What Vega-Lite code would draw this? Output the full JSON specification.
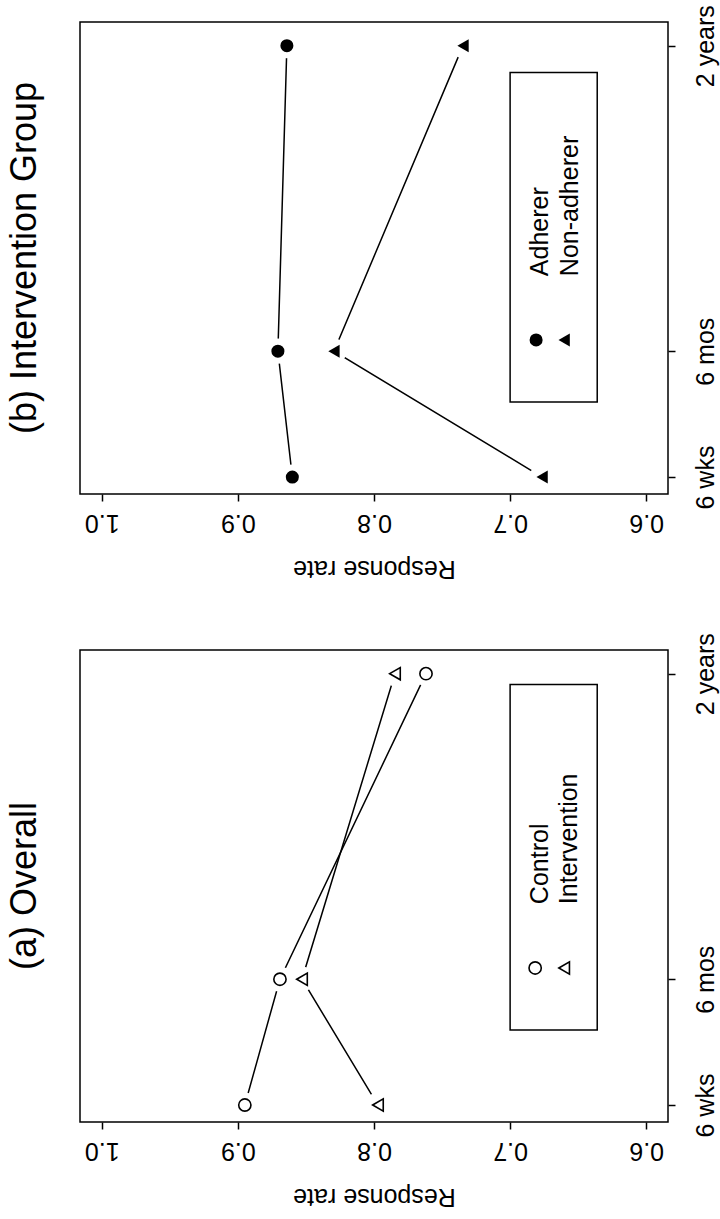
{
  "$schema": "https://vega.github.io/schema/vega-lite/v6.json",
  "background": "white",
  "padding": {"left": 6, "top": 3, "right": 5, "bottom": 5},
  "spacing": 50,
  "datasets": {
    "series": [
      {"panel": "b", "group": "Adherer", "visit": "6 wks", "months": 1.5, "rate": 0.860},
      {"panel": "b", "group": "Adherer", "visit": "6 mos", "months": 6, "rate": 0.8706},
      {"panel": "b", "group": "Adherer", "visit": "2 years", "months": 24, "rate": 0.864},
      {"panel": "b", "group": "Non-adherer", "visit": "6 wks", "months": 1.5, "rate": 0.6765},
      {"panel": "b", "group": "Non-adherer", "visit": "6 mos", "months": 6, "rate": 0.8294},
      {"panel": "b", "group": "Non-adherer", "visit": "2 years", "months": 24, "rate": 0.7346},
      {"panel": "a", "group": "Control", "visit": "6 wks", "months": 1.5, "rate": 0.8949},
      {"panel": "a", "group": "Control", "visit": "6 mos", "months": 6, "rate": 0.8691},
      {"panel": "a", "group": "Control", "visit": "2 years", "months": 24, "rate": 0.7618},
      {"panel": "a", "group": "Intervention", "visit": "6 wks", "months": 1.5, "rate": 0.7971},
      {"panel": "a", "group": "Intervention", "visit": "6 mos", "months": 6, "rate": 0.8529},
      {"panel": "a", "group": "Intervention", "visit": "2 years", "months": 24, "rate": 0.7846}
    ],
    "legend": [
      {"panel": "a", "group": "Control"},
      {"panel": "a", "group": "Intervention"},
      {"panel": "b", "group": "Adherer"},
      {"panel": "b", "group": "Non-adherer"}
    ],
    "box": [{"item": "legend box"}]
  },
  "vconcat": [
    {
      "width": 588,
      "height": 472,
      "title": {"text": "(b) Intervention Group", "orient": "left", "frame": "group", "anchor": "middle", "baseline": "alphabetic", "offset": 8, "fontSize": 36, "fontWeight": "normal", "font": "Liberation Sans", "color": "black"},
      "layer": [
        {
          "data": {"name": "series"},
          "transform": [{"filter": "datum.panel === 'b'"}],
          "mark": {"type": "line", "color": "black", "strokeWidth": 1.5},
          "encoding": {
            "x": {"field": "rate", "type": "quantitative", "scale": {"domain": [0.584, 1.016], "reverse": true, "nice": false, "zero": false},
              "axis": {"orient": "bottom", "values": [0.6, 0.7, 0.8, 0.9, 1.0], "format": ".1f", "labelAngle": 180, "labelAlign": "center", "labelBaseline": "alphabetic", "labelPadding": 13, "labelFlush": false, "labelOverlap": false, "title": "Response rate", "titleAngle": 180, "titleBaseline": "alphabetic", "titlePadding": 26}},
            "y": {"field": "months", "type": "quantitative", "scale": {"type": "pow", "exponent": 0.64, "domain": [1.0736, 25.73], "nice": false, "zero": false},
              "axis": {"orient": "right", "values": [1.5, 6, 24], "labelExpr": "datum.value == 1.5 ? '6 wks' : datum.value == 6 ? '6 mos' : '2 years'", "labelAngle": 270, "labelAlign": "center", "labelBaseline": "top", "labelPadding": 18, "labelFlush": false, "labelOverlap": false, "title": null}},
            "detail": {"field": "group", "type": "nominal"},
            "order": {"field": "months", "type": "quantitative"}
          }
        },
        {
          "data": {"name": "series"},
          "transform": [{"filter": "datum.panel === 'b'"}],
          "mark": {"type": "point", "shape": "circle", "filled": true, "color": "white", "opacity": 1, "size": 635},
          "encoding": {
            "x": {"field": "rate", "type": "quantitative"},
            "y": {"field": "months", "type": "quantitative"}
          }
        },
        {
          "data": {"name": "series"},
          "transform": [{"filter": "datum.panel === 'b'"}],
          "mark": {"type": "point", "filled": true, "color": "black", "opacity": 1, "size": 170},
          "encoding": {
            "x": {"field": "rate", "type": "quantitative"},
            "y": {"field": "months", "type": "quantitative"},
            "shape": {"field": "group", "type": "nominal", "legend": null, "scale": {"domain": ["Control", "Intervention", "Adherer", "Non-adherer"], "range": ["circle", "triangle-left", "circle", "triangle-left"]}}
          }
        },
        {
          "data": {"name": "box"},
          "mark": {"type": "rect", "fill": "white", "stroke": "black", "strokeWidth": 1.5},
          "encoding": {
            "x": {"datum": 0.7, "type": "quantitative"},
            "x2": {"datum": 0.636},
            "y": {"datum": 22.09, "type": "quantitative"},
            "y2": {"datum": 3.924}
          }
        },
        {
          "data": {"name": "legend"},
          "transform": [{"filter": "datum.group === 'Adherer'"}],
          "mark": {"type": "point", "filled": true, "color": "black", "opacity": 1, "size": 170},
          "encoding": {
            "x": {"datum": 0.6809, "type": "quantitative"},
            "y": {"datum": 6.5, "type": "quantitative"},
            "shape": {"field": "group", "type": "nominal", "legend": null}
          }
        },
        {
          "data": {"name": "legend"},
          "transform": [{"filter": "datum.group === 'Non-adherer'"}],
          "mark": {"type": "point", "filled": true, "color": "black", "opacity": 1, "size": 170},
          "encoding": {
            "x": {"datum": 0.6603, "type": "quantitative"},
            "y": {"datum": 6.5, "type": "quantitative"},
            "shape": {"field": "group", "type": "nominal", "legend": null}
          }
        },
        {
          "data": {"name": "legend"},
          "transform": [{"filter": "datum.group === 'Adherer'"}],
          "mark": {"type": "text", "angle": 270, "align": "left", "baseline": "middle", "fontSize": 25, "font": "Liberation Sans", "color": "black"},
          "encoding": {
            "x": {"datum": 0.6779, "type": "quantitative"},
            "y": {"datum": 9.6, "type": "quantitative"},
            "text": {"field": "group", "type": "nominal"}
          }
        },
        {
          "data": {"name": "legend"},
          "transform": [{"filter": "datum.group === 'Non-adherer'"}],
          "mark": {"type": "text", "angle": 270, "align": "left", "baseline": "middle", "fontSize": 25, "font": "Liberation Sans", "color": "black"},
          "encoding": {
            "x": {"datum": 0.6559, "type": "quantitative"},
            "y": {"datum": 9.6, "type": "quantitative"},
            "text": {"field": "group", "type": "nominal"}
          }
        }
      ]
    },
    {
      "width": 588,
      "height": 472,
      "title": {"text": "(a) Overall", "orient": "left", "frame": "group", "anchor": "middle", "baseline": "alphabetic", "offset": 8, "fontSize": 36, "fontWeight": "normal", "font": "Liberation Sans", "color": "black"},
      "layer": [
        {
          "data": {"name": "series"},
          "transform": [{"filter": "datum.panel === 'a'"}],
          "mark": {"type": "line", "color": "black", "strokeWidth": 1.5},
          "encoding": {
            "x": {"field": "rate", "type": "quantitative", "scale": {"domain": [0.584, 1.016], "reverse": true, "nice": false, "zero": false},
              "axis": {"orient": "bottom", "values": [0.6, 0.7, 0.8, 0.9, 1.0], "format": ".1f", "labelAngle": 180, "labelAlign": "center", "labelBaseline": "alphabetic", "labelPadding": 13, "labelFlush": false, "labelOverlap": false, "title": "Response rate", "titleAngle": 180, "titleBaseline": "alphabetic", "titlePadding": 26}},
            "y": {"field": "months", "type": "quantitative", "scale": {"type": "pow", "exponent": 0.64, "domain": [1.0736, 25.73], "nice": false, "zero": false},
              "axis": {"orient": "right", "values": [1.5, 6, 24], "labelExpr": "datum.value == 1.5 ? '6 wks' : datum.value == 6 ? '6 mos' : '2 years'", "labelAngle": 270, "labelAlign": "center", "labelBaseline": "top", "labelPadding": 18, "labelFlush": false, "labelOverlap": false, "title": null}},
            "detail": {"field": "group", "type": "nominal"},
            "order": {"field": "months", "type": "quantitative"}
          }
        },
        {
          "data": {"name": "series"},
          "transform": [{"filter": "datum.panel === 'a'"}],
          "mark": {"type": "point", "shape": "circle", "filled": true, "color": "white", "opacity": 1, "size": 635},
          "encoding": {
            "x": {"field": "rate", "type": "quantitative"},
            "y": {"field": "months", "type": "quantitative"}
          }
        },
        {
          "data": {"name": "series"},
          "transform": [{"filter": "datum.panel === 'a'"}],
          "mark": {"type": "point", "filled": false, "color": "black", "opacity": 1, "size": 150, "strokeWidth": 1.6},
          "encoding": {
            "x": {"field": "rate", "type": "quantitative"},
            "y": {"field": "months", "type": "quantitative"},
            "shape": {"field": "group", "type": "nominal", "legend": null, "scale": {"domain": ["Control", "Intervention", "Adherer", "Non-adherer"], "range": ["circle", "triangle-left", "circle", "triangle-left"]}}
          }
        },
        {
          "data": {"name": "box"},
          "mark": {"type": "rect", "fill": "white", "stroke": "black", "strokeWidth": 1.5},
          "encoding": {
            "x": {"datum": 0.7, "type": "quantitative"},
            "x2": {"datum": 0.636},
            "y": {"datum": 23.22, "type": "quantitative"},
            "y2": {"datum": 3.924}
          }
        },
        {
          "data": {"name": "legend"},
          "transform": [{"filter": "datum.group === 'Control'"}],
          "mark": {"type": "point", "filled": false, "color": "black", "opacity": 1, "size": 150, "strokeWidth": 1.6},
          "encoding": {
            "x": {"datum": 0.6816, "type": "quantitative"},
            "y": {"datum": 6.5, "type": "quantitative"},
            "shape": {"field": "group", "type": "nominal", "legend": null}
          }
        },
        {
          "data": {"name": "legend"},
          "transform": [{"filter": "datum.group === 'Intervention'"}],
          "mark": {"type": "point", "filled": false, "color": "black", "opacity": 1, "size": 150, "strokeWidth": 1.6},
          "encoding": {
            "x": {"datum": 0.6603, "type": "quantitative"},
            "y": {"datum": 6.5, "type": "quantitative"},
            "shape": {"field": "group", "type": "nominal", "legend": null}
          }
        },
        {
          "data": {"name": "legend"},
          "transform": [{"filter": "datum.group === 'Control'"}],
          "mark": {"type": "text", "angle": 270, "align": "left", "baseline": "middle", "fontSize": 25, "font": "Liberation Sans", "color": "black"},
          "encoding": {
            "x": {"datum": 0.6779, "type": "quantitative"},
            "y": {"datum": 9.6, "type": "quantitative"},
            "text": {"field": "group", "type": "nominal"}
          }
        },
        {
          "data": {"name": "legend"},
          "transform": [{"filter": "datum.group === 'Intervention'"}],
          "mark": {"type": "text", "angle": 270, "align": "left", "baseline": "middle", "fontSize": 25, "font": "Liberation Sans", "color": "black"},
          "encoding": {
            "x": {"datum": 0.6566, "type": "quantitative"},
            "y": {"datum": 9.6, "type": "quantitative"},
            "text": {"field": "group", "type": "nominal"}
          }
        }
      ]
    }
  ],
  "config": {
    "font": "Liberation Sans",
    "view": {"stroke": "black", "strokeWidth": 1.5},
    "axis": {"grid": false, "domain": false, "tickColor": "black", "tickWidth": 1.5, "tickSize": 7, "labelColor": "black", "titleColor": "black", "labelFont": "Liberation Sans", "titleFont": "Liberation Sans", "labelFontSize": 25, "titleFontSize": 25, "titleFontWeight": "normal"}
  }
}
